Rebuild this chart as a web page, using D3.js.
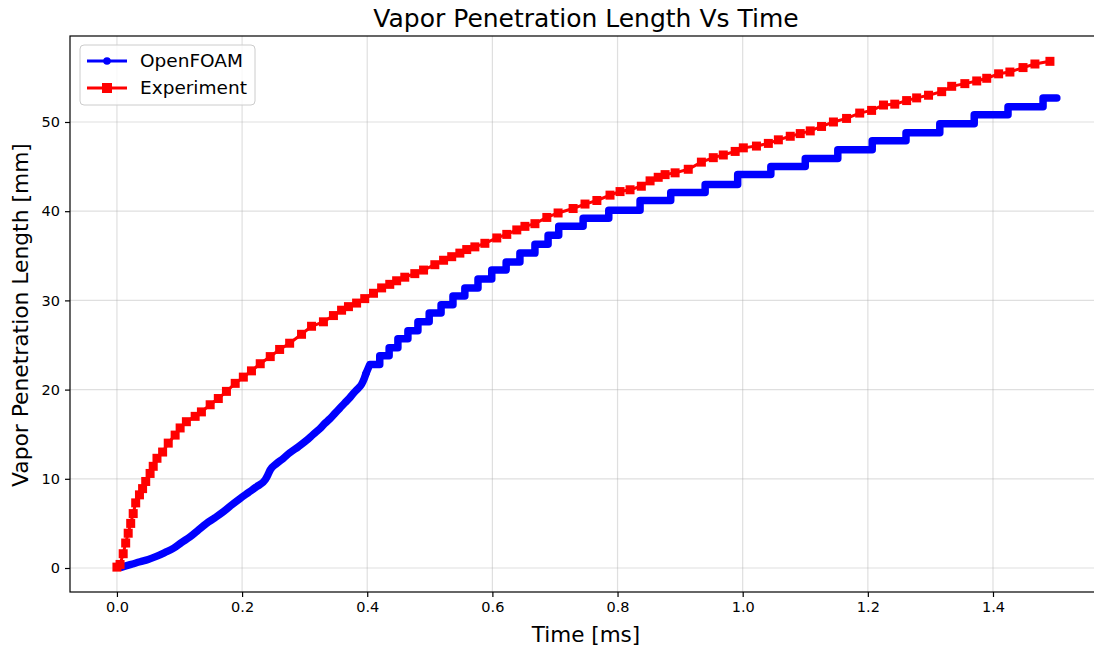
<!DOCTYPE html>
<html>
<head>
<meta charset="utf-8">
<script src="https://cdn.jsdelivr.net/npm/d3@7"></script>
<style>
  body { margin: 0; background: #fff; }
  svg { display: block; font-family: "DejaVu Sans", sans-serif; }
</style>
</head>
<body>
<div id="chart"></div>
<script>
// Experiment (red squares)
var expTime = [0.000, 0.005, 0.010, 0.014, 0.018, 0.022, 0.026, 0.030, 0.036, 0.041, 0.046, 0.053, 0.058, 0.064, 0.073, 0.082, 0.093, 0.101, 0.111, 0.125,
  0.135, 0.149, 0.162, 0.175, 0.189, 0.202, 0.215, 0.229, 0.245, 0.260, 0.276, 0.295, 0.311, 0.330, 0.346, 0.359, 0.370, 0.383, 0.396, 0.410,
  0.423, 0.436, 0.447, 0.460, 0.476, 0.490, 0.508, 0.522, 0.535, 0.548, 0.559, 0.572, 0.588, 0.607, 0.623, 0.639, 0.652, 0.668, 0.687, 0.705,
  0.729, 0.748, 0.767, 0.788, 0.804, 0.820, 0.838, 0.852, 0.865, 0.876, 0.892, 0.913, 0.934, 0.953, 0.969, 0.988, 1.001, 1.022, 1.041, 1.057,
  1.076, 1.092, 1.108, 1.126, 1.145, 1.166, 1.187, 1.206, 1.225, 1.243, 1.262, 1.278, 1.297, 1.318, 1.334, 1.355, 1.374, 1.390, 1.409, 1.427,
  1.448, 1.467, 1.491];
var expLen = [0.1, 0.4, 1.6, 2.8, 3.9, 5.0, 6.1, 7.3, 8.2, 8.9, 9.7, 10.6, 11.4, 12.3, 13.0, 14.0, 14.9, 15.7, 16.4, 17.0,
  17.5, 18.3, 19.0, 19.8, 20.7, 21.4, 22.1, 22.9, 23.7, 24.5, 25.2, 26.2, 27.1, 27.6, 28.3, 28.9, 29.3, 29.7, 30.2, 30.8,
  31.4, 31.8, 32.2, 32.6, 33.0, 33.4, 34.0, 34.5, 34.9, 35.3, 35.7, 36.0, 36.4, 37.0, 37.4, 37.9, 38.3, 38.6, 39.3, 39.8,
  40.3, 40.8, 41.2, 41.8, 42.2, 42.4, 42.8, 43.4, 43.8, 44.1, 44.3, 44.7, 45.5, 46.0, 46.3, 46.7, 47.1, 47.3, 47.6, 48.0,
  48.4, 48.7, 49.0, 49.5, 50.0, 50.4, 51.0, 51.3, 51.9, 52.0, 52.4, 52.7, 53.0, 53.4, 54.0, 54.3, 54.6, 54.9, 55.4, 55.6,
  56.1, 56.5, 56.8];

// OpenFOAM, smooth early part
var foamTime = [0.008, 0.013, 0.025, 0.037, 0.050, 0.063, 0.077, 0.090, 0.103, 0.117, 0.130, 0.143, 0.157, 0.170, 0.183, 0.197, 0.210, 0.223,
  0.237, 0.241, 0.245, 0.255, 0.266, 0.276, 0.290, 0.303, 0.314, 0.324, 0.332, 0.340, 0.348, 0.356, 0.364, 0.371, 0.378, 0.385, 0.391, 0.395, 0.398];
var foamLen = [0.1, 0.2, 0.45, 0.7, 0.95, 1.3, 1.75, 2.2, 2.85, 3.5, 4.25, 5.0, 5.65, 6.3, 7.05, 7.8, 8.45, 9.1,
  9.9, 10.4, 11.0, 11.7, 12.3, 12.9, 13.6, 14.3, 15.0, 15.6, 16.2, 16.7, 17.3, 17.9, 18.5, 19.0, 19.6, 20.1, 20.6, 21.2, 21.8];

// OpenFOAM, stair steps (one mesh cell each)
var stepStart = [0.404, 0.420, 0.435, 0.449, 0.465, 0.481, 0.499, 0.518, 0.537, 0.556, 0.577, 0.599, 0.622, 0.644, 0.668, 0.689, 0.706,
  0.745, 0.786, 0.836, 0.885, 0.940, 0.992, 1.045, 1.100, 1.152, 1.207, 1.261, 1.315, 1.370, 1.424, 1.480];
var stepEnd = [0.420, 0.435, 0.449, 0.465, 0.481, 0.499, 0.518, 0.537, 0.556, 0.577, 0.599, 0.622, 0.644, 0.668, 0.689, 0.706, 0.745,
  0.786, 0.836, 0.885, 0.940, 0.992, 1.045, 1.100, 1.152, 1.207, 1.261, 1.315, 1.370, 1.424, 1.480, 1.502];
var stepLen = [22.8, 23.8, 24.7, 25.7, 26.6, 27.6, 28.6, 29.5, 30.5, 31.4, 32.4, 33.4, 34.3, 35.3, 36.3, 37.3, 38.3,
  39.2, 40.1, 41.2, 42.1, 43.0, 44.1, 45.0, 45.9, 46.9, 47.9, 48.8, 49.8, 50.8, 51.7, 52.7];

var xTicks = [0.0, 0.2, 0.4, 0.6, 0.8, 1.0, 1.2, 1.4];
var yTicks = [0, 10, 20, 30, 40, 50];

// set the dimensions of the page and the axes box
var W = 1094, H = 647;
var box = {left: 70, top: 36, right: 1102.5, bottom: 592};

var svg = d3.select("#chart").append("svg")
    .attr("width", W)
    .attr("height", H);

var x = d3.scaleLinear().domain([-0.075, 1.575]).range([box.left, box.right]);
var y = d3.scaleLinear().domain([-2.69, 59.64]).range([box.bottom, box.top]);

// grid
svg.append("g").selectAll("line").data(xTicks).enter().append("line")
    .attr("x1", function (d) { return x(d); })
    .attr("x2", function (d) { return x(d); })
    .attr("y1", box.top).attr("y2", box.bottom)
    .attr("stroke", "#b0b0b0").attr("stroke-opacity", 0.4).attr("stroke-width", 1.2);
svg.append("g").selectAll("line").data(yTicks).enter().append("line")
    .attr("y1", function (d) { return y(d); })
    .attr("y2", function (d) { return y(d); })
    .attr("x1", box.left).attr("x2", box.right)
    .attr("stroke", "#b0b0b0").attr("stroke-opacity", 0.4).attr("stroke-width", 1.2);

// OpenFOAM data
var foamSmooth = foamTime.map(function (t, i) { return [t, foamLen[i]]; });
var foamSteps = [foamSmooth[foamSmooth.length - 1]];
stepStart.forEach(function (t, i) {
    foamSteps.push([t, stepLen[i]]);
    foamSteps.push([stepEnd[i], stepLen[i]]);
});
var expData = expTime.map(function (t, i) { return [t, expLen[i]]; });

var line = d3.line()
    .x(function (d) { return x(d[0]); })
    .y(function (d) { return y(d[1]); });
var smoothLine = d3.line()
    .curve(d3.curveMonotoneX)
    .x(function (d) { return x(d[0]); })
    .y(function (d) { return y(d[1]); });

[[foamSmooth, smoothLine], [foamSteps, line]].forEach(function (p) {
    svg.append("path")
        .datum(p[0])
        .attr("fill", "none")
        .attr("stroke", "#0000ff")
        .attr("stroke-width", 7.5)
        .attr("stroke-linejoin", "round")
        .attr("stroke-linecap", "round")
        .attr("d", p[1]);
});

svg.append("path")
    .datum(expData)
    .attr("fill", "none")
    .attr("stroke", "#ff0000")
    .attr("stroke-width", 3)
    .attr("d", line);

svg.append("g").selectAll("rect").data(expData).enter().append("rect")
    .attr("x", function (d) { return x(d[0]) - 4.5; })
    .attr("y", function (d) { return y(d[1]) - 4.5; })
    .attr("width", 9).attr("height", 9)
    .attr("fill", "#ff0000");

// axes
var xAxis = svg.append("g")
    .attr("transform", "translate(0," + box.bottom + ")")
    .call(d3.axisBottom(x).tickValues(xTicks).tickFormat(d3.format(".1f")).tickSize(5).tickPadding(5));
var yAxis = svg.append("g")
    .attr("transform", "translate(" + box.left + ",0)")
    .call(d3.axisLeft(y).tickValues(yTicks).tickFormat(d3.format("d")).tickSize(5).tickPadding(5));
[xAxis, yAxis].forEach(function (a) {
    a.select(".domain").remove();
    a.selectAll("text").style("font-size", "14.5px").style("font-family", "DejaVu Sans").attr("fill", "#000");
    a.selectAll("line").attr("stroke", "#000").attr("stroke-width", 1.2);
});

// axes frame
svg.append("rect")
    .attr("x", box.left).attr("y", box.top)
    .attr("width", box.right - box.left).attr("height", box.bottom - box.top)
    .attr("fill", "none").attr("stroke", "#000").attr("stroke-width", 1.2);

// title and labels
svg.append("text")
    .attr("x", 586).attr("y", 27)
    .style("text-anchor", "middle")
    .style("font-size", "25px")
    .text("Vapor Penetration Length Vs Time");
svg.append("text")
    .attr("x", 586).attr("y", 642)
    .style("text-anchor", "middle")
    .style("font-size", "21.5px")
    .text("Time [ms]");
svg.append("text")
    .attr("transform", "translate(28," + ((box.top + box.bottom) / 2 + 1) + ") rotate(-90)")
    .style("text-anchor", "middle")
    .style("font-size", "21.8px")
    .text("Vapor Penetration Length [mm]");

// legend
var legend = svg.append("g");
legend.append("rect")
    .attr("x", 80).attr("y", 45).attr("width", 175).attr("height", 60)
    .attr("rx", 4)
    .attr("fill", "#fff").attr("fill-opacity", 0.8)
    .attr("stroke", "#cccccc").attr("stroke-width", 1);
legend.append("line").attr("x1", 87).attr("x2", 127).attr("y1", 61).attr("y2", 61)
    .attr("stroke", "#0000ff").attr("stroke-width", 3);
legend.append("circle").attr("cx", 107).attr("cy", 61).attr("r", 3.8).attr("fill", "#0000ff");
legend.append("line").attr("x1", 87).attr("x2", 127).attr("y1", 88).attr("y2", 88)
    .attr("stroke", "#ff0000").attr("stroke-width", 3);
legend.append("rect").attr("x", 102).attr("y", 83).attr("width", 10).attr("height", 10).attr("fill", "#ff0000");
legend.append("text").attr("x", 140).attr("y", 67).style("font-size", "18.5px").text("OpenFOAM");
legend.append("text").attr("x", 140).attr("y", 94).style("font-size", "18.5px").text("Experiment");
</script>
</body>
</html>
